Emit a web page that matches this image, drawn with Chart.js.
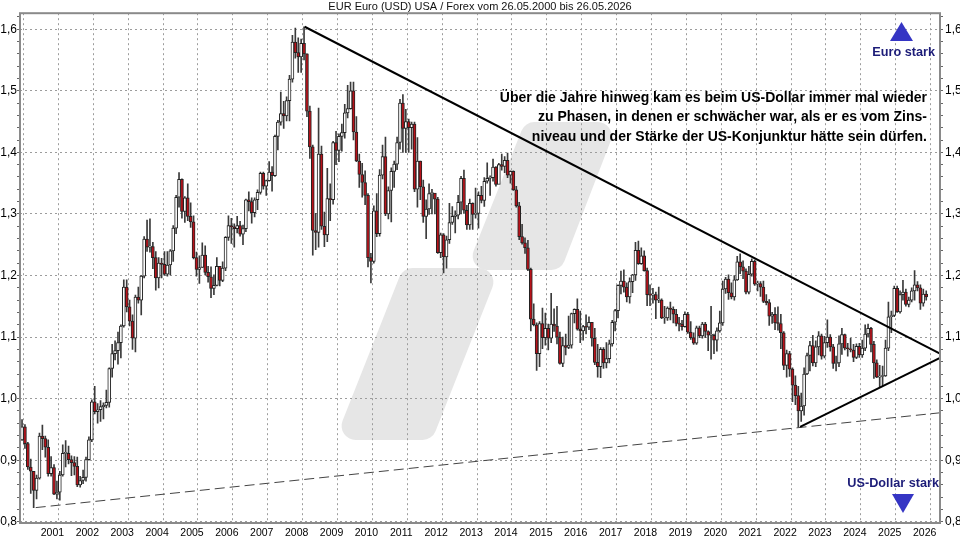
<!DOCTYPE html>
<html>
<head>
<meta charset="utf-8">
<script src="https://cdn.jsdelivr.net/npm/chart.js@4.4.1/dist/chart.umd.min.js"></script>
<style>
  html, body { margin: 0; padding: 0; background: #fff; }
  #wrap { width: 960px; height: 540px; }
</style>
</head>
<body>
<div id="wrap"><canvas id="fx" width="960" height="540"></canvas></div>
<script>
// monthly candles, Jun 2000 .. May 2026
const firstYear = 2000;
const firstMonth = 6;

const opens = [
  0.933,0.954,0.927,0.889,0.882,0.851,0.871,
  0.939,0.935,0.921,0.878,0.888,0.845,0.848,0.876,0.911,0.911,0.901,0.896,
  0.890,0.860,0.867,0.872,0.901,0.933,0.995,0.979,0.982,0.987,0.989,0.994,
  1.049,1.073,1.078,1.091,1.118,1.181,1.149,1.126,1.098,1.165,1.160,1.199,
  1.259,1.246,1.247,1.229,1.196,1.220,1.218,1.202,1.217,1.240,1.277,1.327,
  1.356,1.304,1.326,1.296,1.287,1.229,1.210,1.213,1.233,1.205,1.198,1.179,
  1.184,1.215,1.192,1.212,1.262,1.281,1.279,1.276,1.281,1.267,1.276,1.323,
  1.320,1.302,1.323,1.335,1.366,1.345,1.354,1.368,1.362,1.426,1.449,1.463,
  1.459,1.484,1.519,1.579,1.562,1.555,1.577,1.560,1.467,1.409,1.273,1.270,
  1.397,1.280,1.266,1.325,1.323,1.416,1.403,1.426,1.432,1.464,1.471,1.500,
  1.433,1.386,1.364,1.351,1.330,1.229,1.223,1.305,1.268,1.363,1.393,1.300,
  1.338,1.369,1.381,1.416,1.480,1.439,1.450,1.440,1.446,1.340,1.386,1.344,
  1.296,1.308,1.333,1.334,1.324,1.237,1.266,1.230,1.258,1.286,1.296,1.298,
  1.319,1.358,1.306,1.282,1.317,1.299,1.301,1.330,1.322,1.353,1.358,1.359,
  1.376,1.348,1.380,1.377,1.387,1.363,1.369,1.339,1.313,1.263,1.253,1.245,
  1.210,1.129,1.120,1.073,1.122,1.099,1.114,1.098,1.121,1.118,1.100,1.057,
  1.086,1.083,1.087,1.138,1.145,1.113,1.110,1.117,1.116,1.124,1.098,1.059,
  1.052,1.080,1.058,1.065,1.089,1.124,1.143,1.184,1.191,1.181,1.165,1.190,
  1.201,1.241,1.219,1.232,1.208,1.169,1.168,1.169,1.160,1.160,1.131,1.131,
  1.147,1.145,1.137,1.122,1.121,1.117,1.137,1.108,1.099,1.090,1.115,1.102,
  1.121,1.109,1.103,1.103,1.095,1.110,1.123,1.178,1.194,1.172,1.165,1.193,
  1.222,1.214,1.207,1.173,1.202,1.223,1.186,1.187,1.181,1.158,1.156,1.134,
  1.137,1.123,1.122,1.107,1.054,1.073,1.048,1.022,1.005,0.980,0.988,1.040,
  1.070,1.086,1.058,1.084,1.102,1.069,1.091,1.100,1.084,1.057,1.058,1.089,
  1.104,1.082,1.081,1.079,1.067,1.085,1.071,1.082,1.105,1.114,1.088,1.058,
  1.035,1.036,1.037,1.082,1.133,1.135,1.179,1.141,1.169,1.173,1.153,1.160,
  1.175,1.185,1.180,1.155,1.170
];
const highs = [
  0.966,0.958,0.929,0.902,0.880,0.876,0.944,
  0.957,0.939,0.933,0.906,0.893,0.866,0.882,0.925,0.932,0.923,0.907,0.906,
  0.905,0.874,0.884,0.905,0.938,0.998,1.020,0.992,0.997,0.993,1.014,1.050,
  1.088,1.094,1.108,1.120,1.193,1.193,1.160,1.136,1.168,1.181,1.200,1.263,
  1.290,1.292,1.254,1.239,1.229,1.228,1.239,1.239,1.242,1.281,1.330,1.367,
  1.357,1.328,1.349,1.318,1.297,1.238,1.232,1.253,1.248,1.215,1.214,1.201,
  1.229,1.214,1.222,1.263,1.297,1.293,1.284,1.296,1.288,1.282,1.324,1.336,
  1.326,1.326,1.339,1.368,1.368,1.355,1.385,1.377,1.428,1.452,1.498,1.483,
  1.490,1.525,1.590,1.602,1.586,1.584,1.604,1.560,1.475,1.412,1.301,1.472,
  1.410,1.303,1.374,1.349,1.418,1.434,1.430,1.446,1.478,1.509,1.514,1.514,
  1.458,1.397,1.382,1.370,1.333,1.236,1.313,1.333,1.372,1.412,1.425,1.344,
  1.375,1.386,1.425,1.486,1.494,1.470,1.454,1.449,1.449,1.424,1.386,1.355,
  1.323,1.349,1.340,1.332,1.327,1.269,1.268,1.264,1.317,1.312,1.305,1.330,
  1.361,1.371,1.314,1.324,1.318,1.342,1.336,1.345,1.359,1.383,1.362,1.389,
  1.377,1.382,1.397,1.393,1.399,1.370,1.370,1.345,1.319,1.283,1.261,1.257,
  1.212,1.154,1.123,1.125,1.147,1.139,1.121,1.171,1.146,1.150,1.108,1.100,
  1.105,1.134,1.139,1.146,1.162,1.142,1.119,1.136,1.133,1.124,1.114,1.088,
  1.083,1.083,1.091,1.095,1.127,1.145,1.185,1.207,1.209,1.188,1.196,1.202,
  1.254,1.256,1.245,1.240,1.212,1.185,1.179,1.173,1.181,1.162,1.150,1.149,
  1.157,1.149,1.145,1.132,1.127,1.141,1.140,1.125,1.107,1.118,1.118,1.124,
  1.124,1.110,1.150,1.105,1.115,1.142,1.191,1.197,1.201,1.188,1.200,1.231,
  1.235,1.224,1.211,1.215,1.227,1.225,1.191,1.190,1.191,1.169,1.161,1.140,
  1.148,1.149,1.137,1.109,1.079,1.077,1.050,1.037,1.020,1.009,1.050,1.074,
  1.093,1.103,1.094,1.109,1.105,1.101,1.128,1.104,1.088,1.069,1.102,1.114,
  1.105,1.090,1.098,1.088,1.089,1.090,1.095,1.120,1.121,1.116,1.093,1.063,
  1.054,1.053,1.095,1.157,1.142,1.183,1.183,1.175,1.192,1.178,1.165,1.180,
  1.208,1.190,1.185,1.178,1.175
];
const lows = [
  0.932,0.919,0.885,0.846,0.823,0.837,0.869,
  0.917,0.905,0.874,0.874,0.844,0.837,0.835,0.874,0.889,0.894,0.875,0.876,
  0.857,0.856,0.862,0.866,0.900,0.930,0.975,0.960,0.963,0.967,0.985,0.986,
  1.035,1.063,1.056,1.066,1.116,1.141,1.118,1.080,1.076,1.155,1.136,1.196,
  1.239,1.238,1.211,1.176,1.180,1.196,1.200,1.199,1.201,1.223,1.268,1.311,
  1.293,1.286,1.289,1.278,1.227,1.199,1.187,1.213,1.201,1.189,1.164,1.169,
  1.183,1.183,1.190,1.208,1.257,1.252,1.246,1.269,1.264,1.250,1.271,1.305,
  1.285,1.295,1.307,1.332,1.340,1.330,1.353,1.337,1.361,1.404,1.444,1.439,
  1.451,1.451,1.514,1.553,1.530,1.530,1.550,1.458,1.390,1.233,1.242,1.246,
  1.275,1.247,1.255,1.289,1.316,1.380,1.385,1.402,1.423,1.456,1.470,1.420,
  1.385,1.343,1.327,1.315,1.214,1.188,1.220,1.263,1.264,1.357,1.297,1.292,
  1.287,1.343,1.372,1.405,1.400,1.400,1.400,1.405,1.336,1.311,1.323,1.286,
  1.260,1.299,1.300,1.300,1.236,1.229,1.204,1.212,1.252,1.283,1.269,1.292,
  1.300,1.301,1.275,1.275,1.275,1.293,1.277,1.318,1.312,1.350,1.330,1.353,
  1.345,1.351,1.371,1.367,1.359,1.350,1.338,1.311,1.258,1.251,1.236,1.208,
  1.110,1.118,1.046,1.052,1.081,1.087,1.079,1.091,1.109,1.089,1.056,1.052,
  1.071,1.081,1.082,1.123,1.111,1.091,1.095,1.105,1.112,1.085,1.055,1.035,
  1.034,1.049,1.050,1.058,1.085,1.110,1.131,1.170,1.173,1.157,1.155,1.172,
  1.192,1.218,1.218,1.207,1.151,1.151,1.155,1.130,1.156,1.130,1.122,1.127,
  1.128,1.123,1.118,1.110,1.111,1.116,1.106,1.096,1.088,1.088,1.099,1.098,
  1.099,1.078,1.064,1.073,1.077,1.108,1.119,1.171,1.161,1.162,1.160,1.192,
  1.203,1.195,1.170,1.170,1.199,1.184,1.175,1.166,1.156,1.152,1.119,1.122,
  1.112,1.111,1.081,1.047,1.035,1.036,0.995,0.990,0.954,0.963,0.973,1.039,
  1.045,1.053,1.052,1.071,1.064,1.066,1.083,1.077,1.049,1.045,1.052,1.072,
  1.079,1.069,1.076,1.060,1.065,1.067,1.067,1.078,1.100,1.076,1.033,1.034,
  1.018,1.021,1.036,1.078,1.107,1.133,1.140,1.139,1.160,1.150,1.149,1.157,
  1.160,1.175,1.145,1.150,1.160
];
const closes = [
  0.954,0.927,0.889,0.882,0.851,0.871,0.939,
  0.935,0.921,0.878,0.888,0.845,0.848,0.876,0.911,0.911,0.901,0.896,0.890,
  0.860,0.867,0.872,0.901,0.933,0.995,0.979,0.982,0.987,0.989,0.994,1.049,
  1.073,1.078,1.091,1.118,1.181,1.149,1.126,1.098,1.165,1.160,1.199,1.259,
  1.246,1.247,1.229,1.196,1.220,1.218,1.202,1.217,1.240,1.277,1.327,1.356,
  1.304,1.326,1.296,1.287,1.229,1.210,1.213,1.233,1.205,1.198,1.179,1.184,
  1.215,1.192,1.212,1.262,1.281,1.279,1.276,1.281,1.267,1.276,1.323,1.320,
  1.302,1.323,1.335,1.366,1.345,1.354,1.368,1.362,1.426,1.449,1.463,1.459,
  1.484,1.519,1.579,1.562,1.555,1.577,1.560,1.467,1.409,1.273,1.270,1.397,
  1.280,1.266,1.325,1.323,1.416,1.403,1.426,1.432,1.464,1.471,1.500,1.433,
  1.386,1.364,1.351,1.330,1.229,1.223,1.305,1.268,1.363,1.393,1.300,1.338,
  1.369,1.381,1.416,1.480,1.439,1.450,1.440,1.446,1.340,1.386,1.344,1.296,
  1.308,1.333,1.334,1.324,1.237,1.266,1.230,1.258,1.286,1.296,1.298,1.319,
  1.358,1.306,1.282,1.317,1.299,1.301,1.330,1.322,1.353,1.358,1.359,1.376,
  1.348,1.380,1.377,1.387,1.363,1.369,1.339,1.313,1.263,1.253,1.245,1.210,
  1.129,1.120,1.073,1.122,1.099,1.114,1.098,1.121,1.118,1.100,1.057,1.086,
  1.083,1.087,1.138,1.145,1.113,1.110,1.117,1.116,1.124,1.098,1.059,1.052,
  1.080,1.058,1.065,1.089,1.124,1.143,1.184,1.191,1.181,1.165,1.190,1.201,
  1.241,1.219,1.232,1.208,1.169,1.168,1.169,1.160,1.160,1.131,1.131,1.147,
  1.145,1.137,1.122,1.121,1.117,1.137,1.108,1.099,1.090,1.115,1.102,1.121,
  1.109,1.103,1.103,1.095,1.110,1.123,1.178,1.194,1.172,1.165,1.193,1.222,
  1.214,1.207,1.173,1.202,1.223,1.186,1.187,1.181,1.158,1.156,1.134,1.137,
  1.123,1.122,1.107,1.054,1.073,1.048,1.022,1.005,0.980,0.988,1.040,1.070,
  1.086,1.058,1.084,1.102,1.069,1.091,1.100,1.084,1.057,1.058,1.089,1.104,
  1.082,1.081,1.079,1.067,1.085,1.071,1.082,1.105,1.114,1.088,1.058,1.035,
  1.036,1.037,1.082,1.133,1.135,1.179,1.141,1.169,1.173,1.153,1.160,1.175,
  1.185,1.180,1.155,1.170,1.165
];

// trend lines [year, value]
const trendDown = [[2008.56, 1.604], [2026.77, 1.073]];
const trendUp = [[2022.76, 0.954], [2026.77, 1.066]];
const trendLong = [[2000.85, 0.823], [2026.77, 0.977]];

const yearTicks = [2001,2002,2003,2004,2005,2006,2007,2008,2009,2010,2011,2012,2013,
  2014,2015,2016,2017,2018,2019,2020,2021,2022,2023,2024,2025,2026];
const yMajor = [0.8, 0.9, 1.0, 1.1, 1.2, 1.3, 1.4, 1.5, 1.6];

const titleText = 'EUR Euro (USD) USA / Forex vom 26.05.2000 bis 26.05.2026';
const noteLines = [
  'Über die Jahre hinweg kam es beim US-Dollar immer mal wieder',
  'zu Phasen, in denen er schwächer war, als er es vom Zins-',
  'niveau und der Stärke der US-Konjunktur hätte sein dürfen.'
];

const RED = '#b8121a';
const FONT = 'Arial, "Liberation Sans", sans-serif';
const GRID = '#9c9c9c';

// x position of a monthly candle (middle of the month)
const monthX = (i) => firstYear + (firstMonth - 1 + i + 0.5) / 12;

const yMinor = [];
for (let v = 80; v <= 162; v += 2) yMinor.push(v / 100);
const isMajor = (v) => yMajor.some(m => Math.abs(m - v) < 1e-6);

const wickData = highs.map((h, i) => ({ x: monthX(i), y: [lows[i], h] }));
const bodyData = opens.map((o, i) => ({ x: monthX(i), y: [o, closes[i]] }));
const bodyColors = opens.map((o, i) => (closes[i] < o ? RED : '#ffffff'));
const toPts = (arr) => arr.map(p => ({ x: p[0], y: p[1] }));

function roundedPoly(ctx, pts, r) {
  ctx.beginPath();
  const n = pts.length;
  const start = [(pts[n - 1][0] + pts[0][0]) / 2, (pts[n - 1][1] + pts[0][1]) / 2];
  ctx.moveTo(start[0], start[1]);
  for (let i = 0; i < n; i++) {
    const p = pts[i];
    const q = pts[(i + 1) % n];
    ctx.arcTo(p[0], p[1], q[0], q[1], r);
  }
  ctx.closePath();
  ctx.fill();
}

const decoPlugin = {
  id: 'deco',
  beforeDraw(chart) {
    const ctx = chart.ctx;
    ctx.save();
    ctx.fillStyle = '#fff';
    ctx.fillRect(0, 0, chart.width, chart.height);
    // watermark
    ctx.fillStyle = '#e6e6e6';
    roundedPoly(ctx, [[403, 268], [500, 268], [432, 440], [335, 440]], 14);
    roundedPoly(ctx, [[525, 122], [618, 122], [561, 270], [466, 270]], 14);
    ctx.restore();
  },
  afterDraw(chart) {
    const ctx = chart.ctx;
    const a = chart.chartArea;
    ctx.save();
    // frame
    ctx.strokeStyle = '#8a8a8a';
    ctx.lineWidth = 2;
    ctx.strokeRect(a.left, a.top, a.right - a.left, a.bottom - a.top);

    // note
    ctx.fillStyle = '#000';
    ctx.font = 'bold 14px ' + FONT;
    ctx.textAlign = 'right';
    ctx.textBaseline = 'middle';
    noteLines.forEach((t, i) => ctx.fillText(t, 927, 98 + i * 19.5));

    // arrows
    ctx.fillStyle = '#3535c4';
    ctx.beginPath();
    ctx.moveTo(890, 41); ctx.lineTo(913, 41); ctx.lineTo(901.5, 22);
    ctx.closePath(); ctx.fill();
    ctx.beginPath();
    ctx.moveTo(892, 494); ctx.lineTo(914, 494); ctx.lineTo(903, 513);
    ctx.closePath(); ctx.fill();

    ctx.fillStyle = '#1c1c78';
    ctx.font = 'bold 12.7px ' + FONT;
    ctx.fillText('Euro stark', 935, 52);
    ctx.fillText('US-Dollar stark', 939, 483);
    ctx.restore();
  }
};

const lineBase = { type: 'line', pointRadius: 0, fill: false, tension: 0, order: 1 };

new Chart(document.getElementById('fx'), {
  type: 'bar',
  data: {
    datasets: [
      {
        label: 'wick',
        data: wickData,
        backgroundColor: '#3a3a3a',
        barThickness: 1,
        grouped: false,
        order: 3,
      },
      {
        label: 'body',
        data: bodyData,
        backgroundColor: bodyColors,
        borderColor: '#222222',
        borderWidth: 1,
        borderSkipped: false,
        barThickness: 3,
        minBarLength: 1,
        grouped: false,
        order: 2,
      },
      { ...lineBase, label: 'down', data: toPts(trendDown), borderColor: '#000', borderWidth: 2 },
      { ...lineBase, label: 'up', data: toPts(trendUp), borderColor: '#000', borderWidth: 2 },
      { ...lineBase, label: 'long', data: toPts(trendLong), borderColor: '#444', borderWidth: 1, borderDash: [10, 5] },
    ],
  },
  options: {
    responsive: false,
    animation: false,
    events: [],
    layout: { padding: 0 },
    plugins: {
      legend: { display: false },
      tooltip: { enabled: false },
      title: {
        display: true,
        text: titleText,
        color: '#111',
        font: { family: FONT, size: 11, weight: 'normal', lineHeight: 1.2 },
        padding: { top: 0, bottom: 0 },
      },
    },
    scales: {
      x: {
        type: 'linear',
        min: 2000.4,
        max: 2026.77,
        offset: false,
        afterBuildTicks: (s) => { s.ticks = yearTicks.map(v => ({ value: v })); },
        afterFit: (s) => { s.height = 17; },
        grid: { color: GRID, drawTicks: false },
        border: { display: false, dash: [2, 3] },
        ticks: {
          color: '#000',
          font: { family: FONT, size: 10.5 },
          padding: 4,
          labelOffset: 11.5,
          maxRotation: 0,
          autoSkip: false,
          callback: (v) => String(v),
        },
      },
      y: {
        position: 'left',
        min: 0.798,
        max: 1.626,
        afterBuildTicks: (s) => { s.ticks = yMinor.map(v => ({ value: v })); },
        afterFit: (s) => { s.width = 20; },
        grid: {
          color: (c) => (c.tick && isMajor(c.tick.value) ? GRID : 'rgba(0,0,0,0)'),
          tickColor: '#666',
          tickLength: 3,
        },
        border: { display: false, dash: [2, 3] },
        ticks: {
          color: '#000',
          font: { family: FONT, size: 12 },
          padding: 0,
          autoSkip: false,
          callback: (v) => (isMajor(v) ? v.toFixed(1).replace('.', ',') : ''),
        },
      },
      y2: {
        position: 'right',
        min: 0.798,
        max: 1.626,
        afterBuildTicks: (s) => { s.ticks = yMinor.map(v => ({ value: v })); },
        afterFit: (s) => { s.width = 20; },
        grid: { drawOnChartArea: false, tickColor: '#666', tickLength: 3 },
        border: { display: false },
        ticks: {
          color: '#000',
          font: { family: FONT, size: 12 },
          padding: 2,
          autoSkip: false,
          callback: (v) => (isMajor(v) ? v.toFixed(1).replace('.', ',') : ''),
        },
      },
    },
  },
  plugins: [decoPlugin],
});
</script>
</body>
</html>
